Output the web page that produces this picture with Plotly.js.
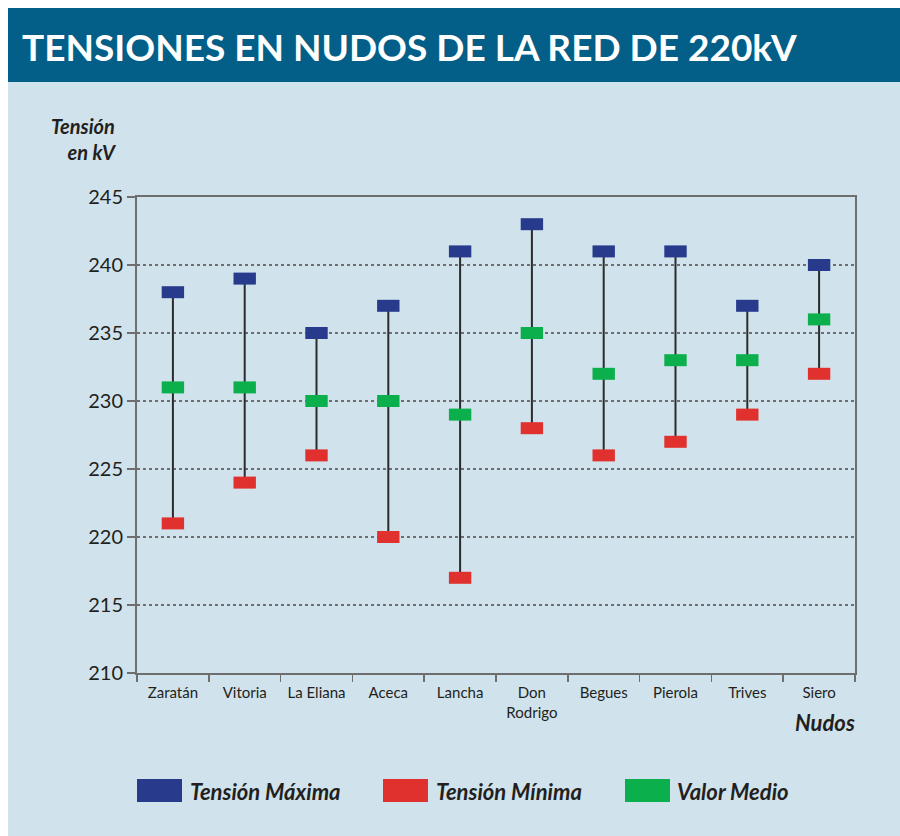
<!DOCTYPE html>
<html>
<head>
<meta charset="utf-8">
<script src="https://cdn.plot.ly/plotly-3.0.1.min.js"></script>
<style>
  html, body { margin: 0; padding: 0; background: #ffffff; }
  #chart { width: 900px; height: 836px; }
</style>
</head>
<body>
<div id="chart"></div>
<script>
/* datos: tensiones en nudos de la red de 220 kV */
var nudos = ['Zaratán', 'Vitoria', 'La Eliana', 'Aceca', 'Lancha', 'Don<br>Rodrigo', 'Begues', 'Pierola', 'Trives', 'Siero'];
var tensionMax = [238, 239, 235, 237, 241, 243, 241, 241, 237, 240];
var tensionMin = [221, 224, 226, 220, 217, 228, 226, 227, 229, 232];
var valorMedio = [231, 231, 230, 230, 229, 235, 232, 233, 233, 236];

var BLUE = '#283a8c';
var RED = '#e0312e';
var GREEN = '#0baf4c';
var INK = '#231f20';
var FONT = 'Lato, "Open Sans", sans-serif';

// plot area in pixels: x 137..855, y 197..673
var L = 137, R = 855, T = 197, B = 673;
function px(x) { return (x - L) / (R - L); }
function py(y) { return (B - y) / (B - T); }

// rectangular marker 16x12 drawn as a thick horizontal stroke
function rectMarker(color) {
	return {
		symbol: 'line-ew',
		size: 16,
		line: { width: 12, color: color }
	};
}

var upper = valorMedio.map(function (v, i) { return tensionMax[i] - v; });
var lower = valorMedio.map(function (v, i) { return v - tensionMin[i]; });

var data = [{
	x: nudos,
	y: valorMedio,
	type: 'scatter',
	mode: 'markers',
	name: 'Valor Medio',
	marker: rectMarker(GREEN),
	error_y: {
		type: 'data',
		symmetric: false,
		array: upper,
		arrayminus: lower,
		width: 0,
		thickness: 2,
		color: '#2b2b2b'
	},
	hoverinfo: 'x+y'
}, {
	x: nudos,
	y: tensionMax,
	type: 'scatter',
	mode: 'markers',
	name: 'Tensión Máxima',
	marker: rectMarker(BLUE),
	hoverinfo: 'x+y'
}, {
	x: nudos,
	y: tensionMin,
	type: 'scatter',
	mode: 'markers',
	name: 'Tensión Mínima',
	marker: rectMarker(RED),
	hoverinfo: 'x+y'
}];

var shapes = [
	// white frame strips and header band
	{ type: 'rect', xref: 'paper', yref: 'paper', x0: px(0), x1: px(8), y0: py(0), y1: py(836), fillcolor: '#ffffff', line: { width: 0 }, layer: 'below' },
	{ type: 'rect', xref: 'paper', yref: 'paper', x0: px(0), x1: px(900), y0: py(0), y1: py(8), fillcolor: '#ffffff', line: { width: 0 }, layer: 'below' },
	{ type: 'rect', xref: 'paper', yref: 'paper', x0: px(8), x1: px(900), y0: py(8), y1: py(82), fillcolor: '#035f87', line: { width: 0 }, layer: 'below' },
	// legend swatches
	{ type: 'rect', xref: 'paper', yref: 'paper', x0: px(137), x1: px(182), y0: py(779), y1: py(802), fillcolor: BLUE, line: { width: 0 } },
	{ type: 'rect', xref: 'paper', yref: 'paper', x0: px(383), x1: px(428), y0: py(779), y1: py(802), fillcolor: RED, line: { width: 0 } },
	{ type: 'rect', xref: 'paper', yref: 'paper', x0: px(625), x1: px(670), y0: py(779), y1: py(802), fillcolor: GREEN, line: { width: 0 } }
];

var legendFont = { family: FONT, size: 22, color: INK };
var annotations = [
	{ text: '<b>TENSIONES EN NUDOS DE LA RED DE 220kV</b>', xref: 'paper', yref: 'paper', x: px(20), y: py(46), xanchor: 'left', yanchor: 'middle', showarrow: false, font: { family: FONT, size: 37, color: '#ffffff' } },
	{ text: '<b><i>Tensión<br>en kV</i></b>', xref: 'paper', yref: 'paper', x: px(119), y: py(139), xanchor: 'right', yanchor: 'middle', align: 'right', showarrow: false, font: { family: FONT, size: 20, color: INK } },
	{ text: '<b><i>Nudos</i></b>', xref: 'paper', yref: 'paper', x: px(857), y: py(722), xanchor: 'right', yanchor: 'middle', showarrow: false, font: { family: FONT, size: 22, color: INK } },
	{ text: '<b><i>Tensión Máxima</i></b>', xref: 'paper', yref: 'paper', x: px(188), y: py(791), xanchor: 'left', yanchor: 'middle', showarrow: false, font: legendFont },
	{ text: '<b><i>Tensión Mínima</i></b>', xref: 'paper', yref: 'paper', x: px(434), y: py(791), xanchor: 'left', yanchor: 'middle', showarrow: false, font: legendFont },
	{ text: '<b><i>Valor Medio</i></b>', xref: 'paper', yref: 'paper', x: px(675), y: py(791), xanchor: 'left', yanchor: 'middle', showarrow: false, font: legendFont }
];

var layout = {
	width: 900,
	height: 836,
	margin: { l: L, r: 900 - R, t: T, b: 836 - B, pad: 0 },
	paper_bgcolor: '#d0e3ec',
	plot_bgcolor: 'rgba(0,0,0,0)',
	showlegend: false,
	font: { family: FONT, color: INK },
	xaxis: {
		type: 'category',
		tickson: 'boundaries',
		ticks: 'outside',
		ticklen: 7,
		tickwidth: 1.5,
		tickcolor: '#6e6e6e',
		ticklabelstandoff: 5,
		showgrid: false,
		showline: true,
		mirror: true,
		linecolor: '#6e6e6e',
		linewidth: 2,
		tickfont: { family: FONT, size: 15, color: INK },
		tickangle: 0,
		range: [-0.5, 9.5]
	},
	yaxis: {
		range: [210, 245],
		dtick: 5,
		tick0: 210,
		ticks: 'outside',
		ticklen: 8,
		tickwidth: 2,
		tickcolor: '#6e6e6e',
		showline: true,
		mirror: true,
		linecolor: '#6e6e6e',
		linewidth: 2,
		showgrid: true,
		gridcolor: '#6e6e6e',
		gridwidth: 1.5,
		griddash: 'dot',
		zeroline: false,
		tickfont: { family: FONT, size: 20, color: INK }
	},
	shapes: shapes,
	annotations: annotations
};

Plotly.newPlot('chart', data, layout, { displayModeBar: false, staticPlot: true });
</script>
</body>
</html>
